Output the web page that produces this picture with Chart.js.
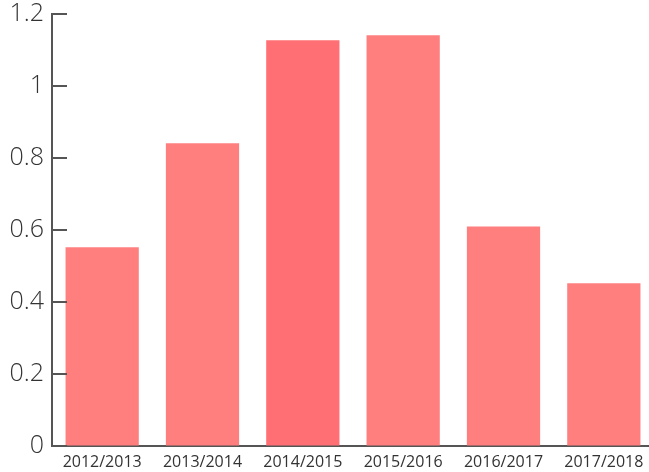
<!DOCTYPE html>
<html>
<head>
<meta charset="utf-8">
<script src="https://cdn.jsdelivr.net/npm/chart.js@4/dist/chart.umd.min.js"></script>
<style>
  html, body { margin: 0; padding: 0; background: #fff; overflow: hidden; }
  #wrap { width: 654px; height: 472px; }
</style>
</head>
<body>
<div id="wrap"><canvas id="chart" width="654" height="472"></canvas></div>
<script>
// Values
const seasons = ['2012/2013', '2013/2014', '2014/2015', '2015/2016', '2016/2017', '2017/2018'];
const values = [0.552, 0.841, 1.127, 1.141, 0.610, 0.452];
const barColors = ['#ff7f7f', '#ff7f7f', '#ff6f73', '#ff7f7f', '#ff7f7f', '#ff7f7f'];
const yTicks = [0, 0.2, 0.4, 0.6, 0.8, 1, 1.2];

const AXIS_COLOR = '#555555';
const TEXT_COLOR = '#333333';
const FONT = '"Open Sans", "Noto Sans", sans-serif';

// tick marks drawn inward from the y axis
const innerTicks = {
  id: 'innerTicks',
  afterDraw(chart) {
    const y = chart.scales.y;
    const ctx = chart.ctx;
    const left = chart.chartArea.left;
    ctx.save();
    ctx.strokeStyle = AXIS_COLOR;
    ctx.lineWidth = 2;
    y.ticks.forEach((t, i) => {
      const py = Math.round(y.getPixelForTick(i));
      ctx.beginPath();
      ctx.moveTo(left, py);
      ctx.lineTo(left + 15, py);
      ctx.stroke();
    });
    ctx.restore();
  }
};

new Chart(document.getElementById('chart'), {
  type: 'bar',
  data: {
    labels: seasons,
    datasets: [{
      data: values,
      backgroundColor: barColors,
      borderWidth: 0,
      barPercentage: 0.73,
      categoryPercentage: 1
    }]
  },
  options: {
    responsive: false,
    animation: false,
    layout: { padding: { top: 14, right: 0, left: 0, bottom: 0 } },
    plugins: {
      legend: { display: false },
      tooltip: { enabled: false }
    },
    scales: {
      x: {
        grid: { drawOnChartArea: false, drawTicks: false },
        border: { display: true, color: AXIS_COLOR, width: 2 },
        ticks: {
          color: TEXT_COLOR,
          padding: 7,
          maxRotation: 0,
          autoSkip: false,
          font: { family: FONT, size: 16 }
        },
        afterFit(scale) {
          scale.height = 26;
          scale.paddingLeft = 0;
          scale.paddingRight = 0;
        }
      },
      y: {
        min: 0,
        max: 1.2,
        afterBuildTicks(scale) {
          scale.ticks = yTicks.map(v => ({ value: v }));
        },
        grid: { drawOnChartArea: false, drawTicks: false },
        border: { display: true, color: AXIS_COLOR, width: 2 },
        ticks: {
          color: TEXT_COLOR,
          padding: 8,
          font: { family: FONT, size: 25, weight: 300 },
          callback: v => String(v)
        },
        afterFit(scale) {
          scale.width = 52;
          scale.paddingTop = 0;
          scale.paddingBottom = 0;
        }
      }
    }
  },
  plugins: [innerTicks]
});
</script>
</body>
</html>
